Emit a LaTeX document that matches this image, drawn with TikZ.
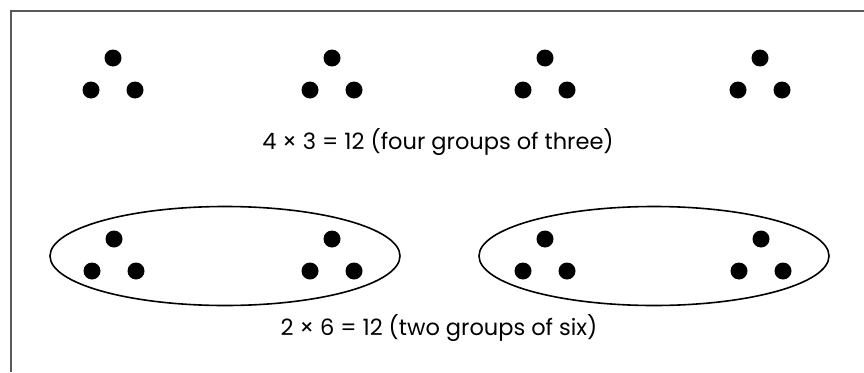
\documentclass[tikz,border=0pt]{standalone}
\usepackage{fontspec}
\setmainfont{Poppins}
\usetikzlibrary{positioning,shapes.geometric}

\begin{document}
\begin{tikzpicture}[
  x=1pt, y=-1pt,
  every node/.style={font=\fontsize{22.5}{27}\selectfont},
  dot/.style={circle, fill=black, inner sep=0pt, minimum size=17pt},
  pairbox/.style={ellipse, draw, line width=1.6pt, inner sep=0pt, minimum width=350pt, minimum height=99pt},
  frame/.style={draw=black!65, line width=2pt}
]
\useasboundingbox (0,0) rectangle (864,372);

% Frame (open at right and bottom)
\coordinate (frame_bl) at (11,372);
\coordinate (frame_tl) at (11,11);
\coordinate (frame_tr) at (864,11);
\draw[frame] (frame_bl) -- (frame_tl) -- (frame_tr);

% Four groups of three
\foreach \i/\x in {1/113,2/332,3/545,4/760} {
  \node[dot] (top\i) at (\x,58) {};
  \node[dot] (left\i) at ([xshift=-22pt,yshift=-32pt]top\i.center) {};
  \node[dot] (right\i) at ([xshift=22pt,yshift=-32pt]top\i.center) {};
}
\node (four_label) at (438,142) {4 × 3 = 12 (four groups of three)};

% Two groups of six
\node[pairbox] (pair1) at (225,256) {};
\node[pairbox] (pair2) at (654,256) {};
\foreach \i/\x in {1/114,2/332,3/545,4/761} {
  \node[dot] (ptop\i) at (\x,239) {};
  \node[dot] (pleft\i) at ([xshift=-22pt,yshift=-32pt]ptop\i.center) {};
  \node[dot] (pright\i) at ([xshift=22pt,yshift=-32pt]ptop\i.center) {};
}
\node (two_label) at (439,328) {2 × 6 = 12 (two groups of six)};

\end{tikzpicture}
\end{document}
